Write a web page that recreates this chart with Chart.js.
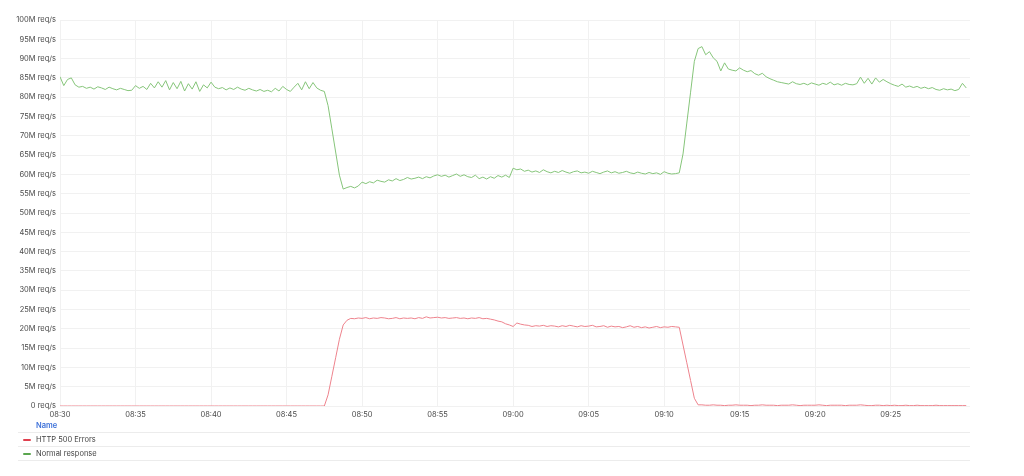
<!DOCTYPE html>
<html>
<head>
<meta charset="utf-8">
<script src="https://cdn.jsdelivr.net/npm/chart.js@4.4.0/dist/chart.umd.min.js"></script>
<style>
  html, body { margin: 0; padding: 0; background: #fff; }
  body { width: 1024px; height: 476px; position: relative; overflow: hidden; font-family: Inter, "Noto Sans", sans-serif; }
  .chart-container { position: absolute; left: 0; top: 0; width: 1024px; height: 420px; }
  .legend { position: absolute; left: 18px; top: 419px; width: 952px; font-size: 7.5px; color: #444; }
  .legend .head { height: 13px; line-height: 13px; padding-left: 18px; color: #3d71d9; font-weight: 600; border-bottom: 1px solid #ececec; }
  .legend .row { height: 13px; line-height: 13px; padding-left: 18px; position: relative; border-bottom: 1px solid #ececec; }
  .legend .sw { position: absolute; left: 5px; top: 6px; width: 8px; height: 2px; border-radius: 1px; }
</style>
</head>
<body>
<div class="chart-container"><canvas id="chart"></canvas></div>
<div class="legend" id="legend"></div>
<script>
// time axis: minutes after 08:30, one sample every 15 s
const startMinute = 8 * 60 + 30;
const stepMinutes = 0.25;
const xTicks = [0, 5, 10, 15, 20, 25, 30, 35, 40, 45, 50, 55];
const yTicks = [0, 5, 10, 15, 20, 25, 30, 35, 40, 45, 50, 55, 60, 65, 70, 75, 80, 85, 90, 95, 100];

const seriesNames = ['HTTP 500 Errors', 'Normal response'];
const swatchColors = ['#E0404F', '#5AA64E'];
const lineColors = ['#EE838D', '#86C57A'];

// M req/s
const http500Errors = [
  0, 0, 0, 0, 0, 0, 0, 0, 0, 0, 0, 0, 0, 0, 0, 0, 0, 0, 0, 0,
  0, 0, 0, 0, 0, 0, 0, 0, 0, 0, 0, 0, 0, 0, 0, 0, 0, 0, 0, 0,
  0, 0, 0, 0, 0, 0, 0, 0, 0, 0, 0, 0, 0, 0, 0, 0, 0, 0, 0, 0,
  0, 0, 0, 0, 0, 0, 0, 0, 0, 0, 0,
  2.9, 7.7, 12.5, 17.3, 21.0, 22.2, 22.7,
  22.6, 22.8, 22.7, 22.9, 22.6, 22.8, 22.7, 22.9, 22.8, 22.6,
  22.7, 22.9, 22.6, 22.8, 22.7, 22.8, 22.6, 22.9, 22.7, 23.1,
  22.8, 22.9, 23.0, 22.8, 22.9, 22.7, 22.8, 22.9, 22.7, 22.8,
  22.6, 22.8, 22.7, 22.9, 22.6, 22.7, 22.5,
  22.3, 22.0, 21.8, 21.3, 21.0, 20.6,
  21.5,
  21.2, 21.0, 20.9, 20.6, 20.8, 20.7, 20.9, 20.6, 20.8, 20.7,
  20.5, 20.8, 20.6, 20.9, 20.7, 20.5, 20.8, 20.6, 20.7, 20.9,
  20.5, 20.6, 20.8, 20.4, 20.7, 20.5, 20.6, 20.3, 20.5, 20.8,
  20.4, 20.6, 20.3, 20.5, 20.2, 20.4, 20.6, 20.3, 20.5, 20.4,
  20.6, 20.5, 20.4,
  15.8, 11.2, 6.6, 2.0, 0.3,
  0.3, 0.2, 0.2, 0.3, 0.2, 0.2, 0.1, 0.2, 0.2, 0.3,
  0.2, 0.2, 0.2, 0.1, 0.2, 0.2, 0.3, 0.2, 0.2, 0.2,
  0.1, 0.2, 0.2, 0.2, 0.3, 0.2, 0.1, 0.2, 0.2, 0.2,
  0.2, 0.3, 0.2, 0.1, 0.2, 0.2, 0.2, 0.2, 0.1, 0.2,
  0.2, 0.2, 0.3, 0.2, 0.1, 0.1, 0.2, 0.2, 0.1, 0.2,
  0.1, 0.2, 0.1, 0.1, 0.2, 0.1, 0.1, 0.2, 0.1, 0.1,
  0.1, 0.1, 0.2, 0.1, 0.1, 0.1, 0.1, 0.1, 0.1, 0.1,
  0.1
];

const normalResponse = [
  85.3, 83.0, 84.6, 85.0, 83.2, 82.6,
  82.8, 82.3, 82.6, 82.1, 82.7, 82.4, 82.0, 82.6, 82.2, 81.9, 82.3, 82.0, 81.7, 81.8, 83.0,
  82.3, 82.8, 82.0, 83.6, 82.4, 84.0, 82.6, 84.3, 81.9, 83.8,
  82.2, 84.1, 81.6, 83.5, 82.1, 84.0, 81.5, 83.2, 82.4, 83.9,
  82.6, 82.2, 82.5, 81.9, 82.4, 82.0, 82.6, 82.1, 81.8, 82.3, 81.9, 81.6, 82.0, 81.5, 81.8, 81.4,
  82.3, 81.6, 82.8, 82.0, 81.5, 82.6, 83.6, 81.9, 84.0, 82.2, 83.8, 82.4, 81.8, 81.5,
  77.8, 71.8, 65.8, 59.8, 56.2,
  56.6, 56.9, 56.5, 57.0, 58.0,
  57.6, 58.1, 57.8, 58.5, 58.2, 58.0, 58.6, 58.3, 58.9, 58.4,
  58.7, 59.2, 58.8, 59.0, 59.3, 58.9, 59.4, 59.1, 59.6, 59.9,
  59.5, 59.8, 59.3, 59.7, 60.1, 59.5, 59.9, 59.4, 59.2, 59.8,
  58.9, 59.3, 58.8, 59.4, 59.0, 59.7, 59.3, 59.8, 59.2,
  61.6,
  61.2, 61.4, 60.8, 61.1, 60.6, 60.9, 60.5, 61.2, 60.7, 60.4,
  60.8, 60.5, 61.0, 60.6, 60.3, 60.7, 60.9, 60.4, 60.6, 60.3,
  60.8, 60.5, 60.2, 60.6, 60.9, 60.4, 60.7, 60.3, 60.5, 60.8,
  60.4, 60.2, 60.6, 60.3, 60.1, 60.5, 60.2, 60.4, 60.0, 60.7,
  60.3, 60.1, 60.2, 60.4,
  65.3, 73.3, 81.3, 89.3, 92.6, 93.1,
  91.0, 91.8, 90.2, 89.3, 86.8, 88.9, 87.3, 87.0, 86.8, 87.6,
  87.0, 86.6, 86.9, 86.1, 85.7, 86.2, 85.3, 84.8, 84.4, 84.0, 83.8, 83.6,
  83.4, 84.0, 83.5, 83.3, 83.6, 83.2, 83.7, 83.4, 83.1, 83.6,
  83.3, 83.9, 83.2, 83.5, 83.1, 83.6, 83.3, 83.2, 83.5,
  85.2, 83.6, 84.9, 83.4, 85.0, 83.9, 84.6,
  84.0, 83.5, 83.1, 82.8, 83.4, 82.6,
  82.9, 82.5, 82.8, 82.3, 82.6, 82.2, 82.5, 82.0, 81.8, 82.2,
  81.9, 82.1, 81.7, 82.0, 83.6, 82.4
];

const toPoints = (values) => values.map((v, i) => ({ x: i * stepMinutes, y: v }));

const fmtTime = (m) => {
  const total = startMinute + m;
  const hh = String(Math.floor(total / 60)).padStart(2, '0');
  const mm = String(Math.round(total % 60)).padStart(2, '0');
  return hh + ':' + mm;
};

const tickFont = { family: 'Inter, "Noto Sans", sans-serif', size: 7.5 };

const ctx = document.getElementById('chart').getContext('2d');
new Chart(ctx, {
  type: 'line',
  data: {
    datasets: [
      {
        label: seriesNames[0],
        data: toPoints(http500Errors),
        borderColor: lineColors[0],
        borderWidth: 1,
        pointRadius: 0,
        tension: 0,
      },
      {
        label: seriesNames[1],
        data: toPoints(normalResponse),
        borderColor: lineColors[1],
        borderWidth: 1,
        pointRadius: 0,
        tension: 0,
      },
    ],
  },
  options: {
    responsive: true,
    maintainAspectRatio: false,
    animation: false,
    layout: { padding: { top: 20, right: 54, left: 0, bottom: 0 } },
    plugins: {
      legend: { display: false },
      tooltip: { enabled: false },
    },
    scales: {
      x: {
        type: 'linear',
        min: 0,
        max: 60.25,
        afterBuildTicks: (axis) => {
          axis.ticks = xTicks.map((v) => ({ value: v }));
        },
        afterFit: (axis) => { axis.height = 14; },
        grid: { color: '#f1f1f1', drawTicks: false },
        border: { display: false },
        ticks: {
          color: '#4a4a4a',
          font: tickFont,
          padding: 4,
          maxRotation: 0,
          callback: (v) => fmtTime(v),
        },
      },
      y: {
        min: 0,
        max: 100,
        afterBuildTicks: (axis) => {
          axis.ticks = yTicks.map((v) => ({ value: v }));
        },
        afterFit: (axis) => { axis.width = 60; },
        grid: { color: '#f1f1f1', drawTicks: false },
        border: { display: false },
        ticks: {
          color: '#4a4a4a',
          font: tickFont,
          padding: 4,
          callback: (v) => (v === 0 ? '0 req/s' : v + 'M req/s'),
        },
      },
    },
  },
});

// table legend under the plot
const legend = document.getElementById('legend');
legend.innerHTML = '<div class="head">Name</div>' + seriesNames
  .map((name, i) => '<div class="row"><span class="sw" style="background:' + swatchColors[i] + '"></span>' + name + '</div>')
  .join('');
</script>
</body>
</html>
